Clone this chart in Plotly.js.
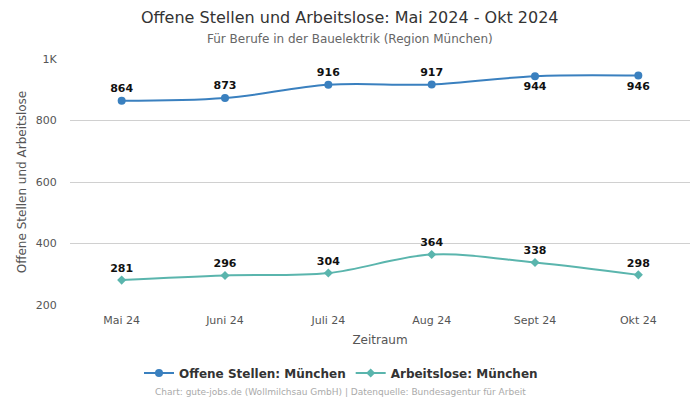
<!DOCTYPE html>
<html><head><meta charset="utf-8">
<script src="https://cdn.plot.ly/plotly-3.0.1.min.js"></script>
<style>html,body{margin:0;padding:0;background:#fff;overflow:hidden}#c{width:700px;height:400px}</style>
</head><body><div id="c"></div>
<script>
const categories = ["Mai 24","Juni 24","Juli 24","Aug 24","Sept 24","Okt 24"];
const offeneStellen = [864, 873, 916, 917, 944, 946];
const arbeitslose = [281, 296, 304, 364, 338, 298];
const offenePos = ["top center","top center","top center","top center","bottom center","bottom center"];
const yTickVals = [200, 400, 600, 800, 1000];
const yTickText = ["200","400","600","800","1K"];

const labelFont = {family: "DejaVu Sans", size: 11, color: "#111", weight: "bold"};
const traces = [
  {x: categories, y: offeneStellen, name: "Offene Stellen: München", type: "scatter",
   mode: "lines+markers+text", line: {color: "#3a80bf", width: 2, shape: "spline"},
   marker: {color: "#3a80bf", size: 8, symbol: "circle"},
   text: offeneStellen.map(String), textposition: offenePos, textfont: labelFont,
   cliponaxis: false},
  {x: categories, y: arbeitslose, name: "Arbeitslose: München", type: "scatter",
   mode: "lines+markers+text", line: {color: "#5ab5ad", width: 2, shape: "spline"},
   marker: {color: "#5ab5ad", size: 7, symbol: "diamond"},
   text: arbeitslose.map(String), textposition: "top center", textfont: labelFont,
   cliponaxis: false}
];
const H = 246, W = 620, L = 70;
const py = p => (305 - p) / H;
const px = p => (p - L) / W;
const layout = {
  width: 700, height: 400,
  margin: {l: 70, r: 10, t: 59, b: 95, autoexpand: false},
  paper_bgcolor: "#fff", plot_bgcolor: "#fff",
  font: {family: "DejaVu Sans", color: "#555"},
  xaxis: {type: "category", range: [-0.5, 5.5], showgrid: false, zeroline: false,
          showline: false, ticks: "outside", ticklen: 5, tickcolor: "rgba(0,0,0,0)",
          tickfont: {size: 11, color: "#555"},
          title: {text: "Zeitraum", font: {size: 12, color: "#555"}, standoff: 9}},
  yaxis: {range: [200, 1000], tickvals: yTickVals, ticktext: yTickText, showgrid: true,
          gridcolor: "#d0d0d0", zeroline: false, showline: false,
          ticks: "outside", ticklen: 10, tickcolor: "rgba(0,0,0,0)",
          tickfont: {size: 11, color: "#555"},
          title: {text: "Offene Stellen und Arbeitslose", font: {size: 12, color: "#555"}, standoff: 6}},
  showlegend: true,
  legend: {orientation: "h", x: px(341), xanchor: "center", y: py(373), yanchor: "middle",
           font: {size: 12, color: "#333", family: "DejaVu Sans", weight: "bold"}},
  annotations: [
    {text: "Offene Stellen und Arbeitslose: Mai 2024 - Okt 2024", xref: "paper", yref: "paper",
     x: px(350), xanchor: "center", y: py(17), yanchor: "middle", showarrow: false,
     font: {family: "DejaVu Sans", size: 16, color: "#333"}},
    {text: "Für Berufe in der Bauelektrik (Region München)", xref: "paper", yref: "paper",
     x: px(350), xanchor: "center", y: py(39), yanchor: "middle", showarrow: false,
     font: {family: "DejaVu Sans", size: 12, color: "#666"}},
    {text: "Chart: gute-jobs.de (Wollmilchsau GmbH) | Datenquelle: Bundesagentur für Arbeit",
     xref: "paper", yref: "paper", x: px(340), xanchor: "center", y: py(392), yanchor: "middle",
     showarrow: false, font: {size: 9, color: "#aaa"}}]
};
Plotly.newPlot("c", traces, layout, {displayModeBar: false, staticPlot: true});
</script></body></html>
